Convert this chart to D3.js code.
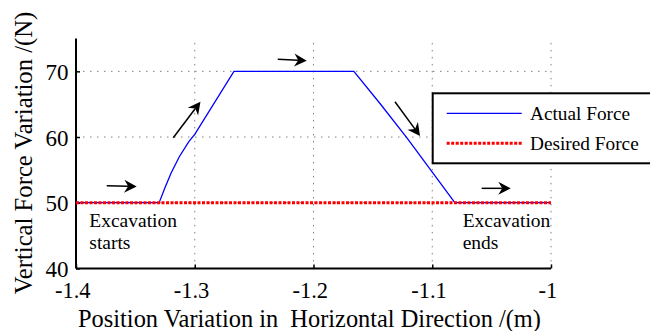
<!DOCTYPE html>
<html><head><meta charset="utf-8">
<script src="https://cdn.jsdelivr.net/npm/d3@7"></script>
<style>
html,body{margin:0;padding:0;background:#fff;}
svg{display:block;}
text{font-family:"Liberation Serif","Times New Roman",serif;fill:#000;}
</style></head>
<body>
<svg id="chart" width="650" height="331"></svg>
<script>
// ---- data ----
const xTicks = [-1.4, -1.3, -1.2, -1.1, -1.0];
const xTickLabels = ["-1.4", "-1.3", "-1.2", "-1.1", "-1"];
const yTicks = [40, 50, 60, 70];
const yTickLabels = ["40", "50", "60", "70"];
const actualX = [-1.4, -1.330, -1.325, -1.320, -1.313, -1.305, -1.300, -1.267, -1.166, -1.144, -1.121, -1.081, -1.0];
const actualY = [50, 50, 52.3, 54.5, 57.0, 59.3, 60.4, 70, 70, 65.1, 59.8, 50, 50];
const desiredX = [-1.4, -1.0];
const desiredY = [50, 50];
const seriesNames = ["Actual Force", "Desired Force"];
// arrows: [x0, y0, x1, y1] in data units
const arrows = [
  [-1.3741, 52.60, -1.3489, 52.45],
  [-1.3181, 59.90, -1.2952, 65.38],
  [-1.2301, 71.83, -1.2057, 71.62],
  [-1.1314, 65.38, -1.1103, 60.16],
  [-1.0584, 52.19, -1.0339, 52.19]
];
const notes = [
  {x: -1.3888, y: 46.3, lines: ["Excavation", "starts"]},
  {x: -1.0744, y: 46.3, lines: ["Excavation", "ends"]}
];
const xTitle = "Position Variation in  Horizontal Direction /(m)";
const yTitle = "Vertical Force Variation /(N)";

// ---- drawing ----
const svg = d3.select("#chart");
const x = d3.scaleLinear().domain([-1.4, -1.0]).range([76, 551]);
const y = d3.scaleLinear().domain([40, 75]).range([268.4, 38.5]);

// grid
const grid = svg.append("g").attr("stroke", "#808080").attr("stroke-width", 1)
  .attr("stroke-dasharray", "1.5,5.5").attr("fill", "none");
xTicks.slice(1).forEach(t => {
  grid.append("line").attr("x1", x(t)).attr("x2", x(t)).attr("y1", y(40)).attr("y2", y(75));
});
yTicks.slice(1).forEach(t => {
  grid.append("line").attr("x1", x(-1.4)).attr("x2", x(-1.0)).attr("y1", y(t)).attr("y2", y(t));
});

// axes
const xAxis = d3.axisBottom(x).tickValues(xTicks).tickSize(-4).tickFormat((d, i) => xTickLabels[i]).tickPadding(10);
const gx = svg.append("g").attr("transform", `translate(0,${y(40)})`).call(xAxis);
gx.select(".domain").attr("stroke", "#000").attr("stroke-width", 2).attr("d", `M${x(-1.4)},0H${x(-1.0)}`);
gx.selectAll(".tick line").attr("stroke", "#000").attr("stroke-width", 1.5);
gx.selectAll(".tick text").attr("font-family", "Liberation Serif").attr("font-size", 22.5)
  .attr("y", 0).attr("dy", null).attr("transform", "translate(0,30)").attr("dx", "-0.166em");

const yAxis = d3.axisLeft(y).tickValues(yTicks).tickSize(-4).tickFormat((d, i) => yTickLabels[i]).tickPadding(8);
const gy = svg.append("g").attr("transform", `translate(${x(-1.4)},0)`).call(yAxis);
gy.select(".domain").attr("stroke", "#000").attr("stroke-width", 2).attr("d", `M0,${y(75)}V${y(40)}`);
gy.selectAll(".tick line").attr("stroke", "#000").attr("stroke-width", 1.5);
gy.selectAll(".tick text").attr("font-family", "Liberation Serif").attr("font-size", 23)
  .attr("dy", "0.36em").attr("x", -7.5);

// series
const line = d3.line().x(d => x(d[0])).y(d => y(d[1]));
svg.append("path").datum(d3.zip(actualX, actualY)).attr("d", line)
  .attr("fill", "none").attr("stroke", "#0000ff").attr("stroke-width", 1.3);
svg.append("path").datum(d3.zip(desiredX, desiredY)).attr("d", line)
  .attr("fill", "none").attr("stroke", "#ff0000").attr("stroke-width", 3).attr("stroke-dasharray", "3,1.5");

// arrows
const ag = svg.append("g");
arrows.forEach(a => {
  const x0 = x(a[0]), y0 = y(a[1]), x1 = x(a[2]), y1 = y(a[3]);
  const dx = x1 - x0, dy = y1 - y0, L = Math.hypot(dx, dy);
  const ux = dx / L, uy = dy / L, px = -uy, py = ux;
  const hl = 12.5, hw = 6.5, notch = 4;
  const bx = x1 - ux * hl, by = y1 - uy * hl;
  ag.append("line").attr("x1", x0).attr("y1", y0).attr("x2", x1 - ux * (hl - notch)).attr("y2", y1 - uy * (hl - notch))
    .attr("stroke", "#000").attr("stroke-width", 1.5);
  const pts = [[x1, y1], [bx + px * hw, by + py * hw], [x1 - ux * (hl - notch), y1 - uy * (hl - notch)], [bx - px * hw, by - py * hw]];
  ag.append("path").attr("d", "M" + pts.map(p => p.join(",")).join("L") + "Z").attr("fill", "#000");
});

// notes
notes.forEach(n => {
  const t = svg.append("text").attr("font-size", 19.5);
  n.lines.forEach((s, i) => {
    t.append("tspan").attr("x", x(n.x)).attr("y", y(n.y) + i * 21.5).text(s);
  });
});

// legend
const lg = svg.append("g");
lg.append("rect").attr("x", 432.7).attr("y", 93.3).attr("width", 240).attr("height", 70)
  .attr("fill", "#fff").attr("stroke", "#000").attr("stroke-width", 2);
lg.append("line").attr("x1", 446.7).attr("x2", 521.7).attr("y1", 113.3).attr("y2", 113.3)
  .attr("stroke", "#0000ff").attr("stroke-width", 1.3);
lg.append("line").attr("x1", 446.7).attr("x2", 521.7).attr("y1", 143.3).attr("y2", 143.3)
  .attr("stroke", "#ff0000").attr("stroke-width", 3).attr("stroke-dasharray", "3,1.5");
seriesNames.forEach((s, i) => {
  lg.append("text").attr("x", 530).attr("y", 113.3 + i * 30).attr("dy", "0.35em").attr("font-size", 19.3).text(s);
});

// titles
svg.append("text").attr("x", 309.5).attr("y", 327).attr("text-anchor", "middle")
  .attr("font-size", 24.4).style("white-space", "pre").text(xTitle);
svg.append("text").attr("transform", "translate(32,153) rotate(-90)").attr("text-anchor", "middle")
  .attr("font-size", 24.7).text(yTitle);
</script>
</body></html>
